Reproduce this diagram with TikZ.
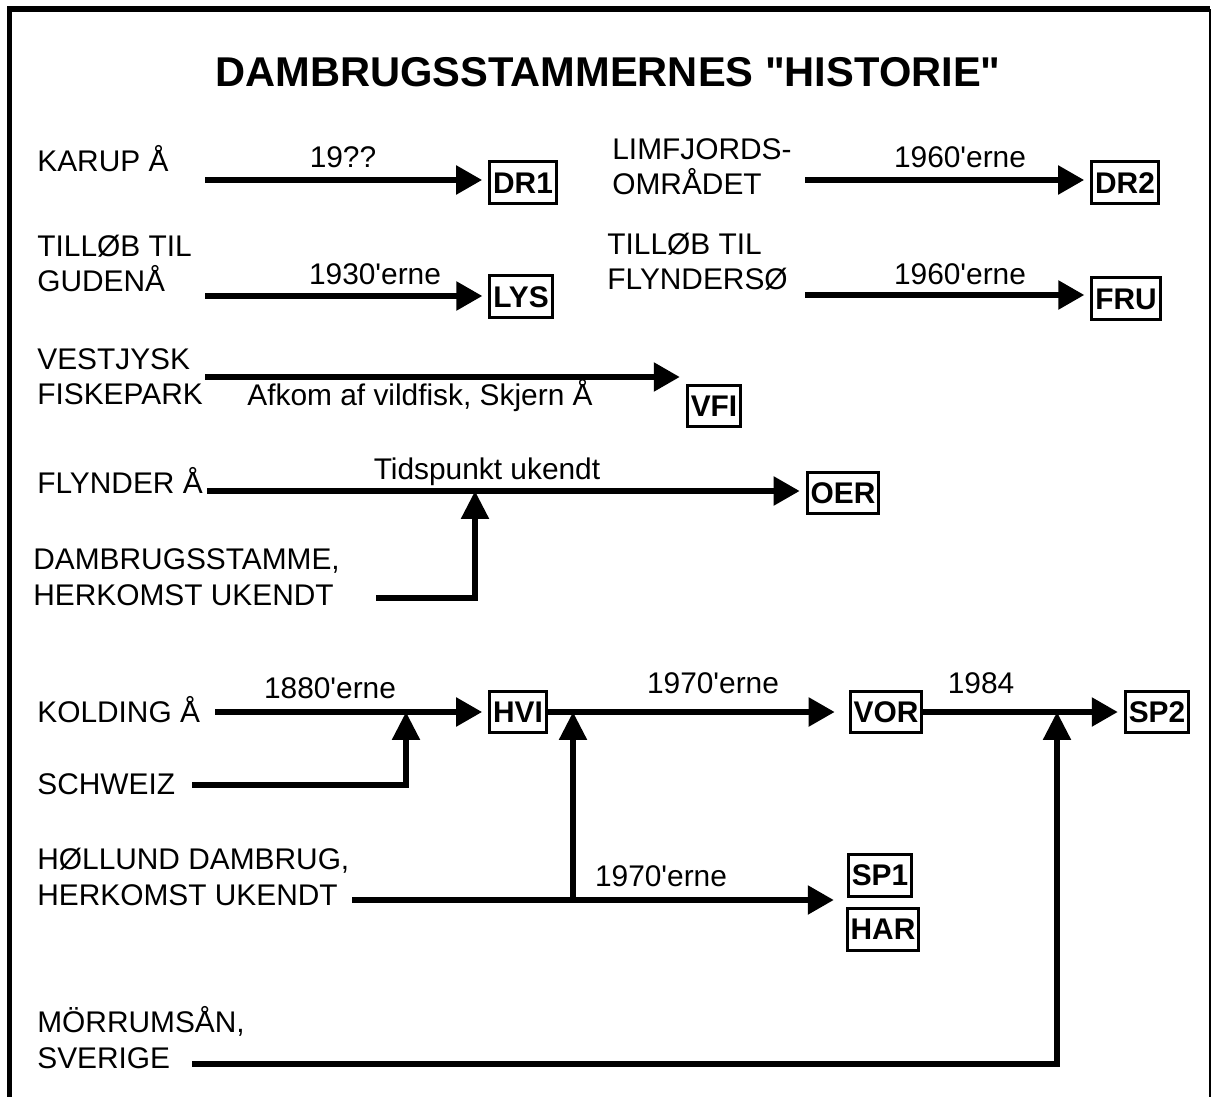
\documentclass[tikz,border=0pt]{standalone}
\usepackage{fontspec}
\setmainfont{Liberation Sans}[Ligatures=TeXOff]
\usepackage{tikz}
\usetikzlibrary{arrows.meta, positioning, calc}
\tikzset{%
	source/.style={
		anchor=base west,
		align=left,
		inner sep=0pt,
		font=\fontsize{17pt}{20pt}\selectfont
	},
	period/.style={
		anchor=base,
		inner sep=0pt,
		font=\fontsize{17pt}{20pt}\selectfont
	},
	strain/.style={
		draw,
		line width=0.06cm,
		inner sep=0.07cm,
		minimum height=0.84cm,
		font=\bfseries\fontsize{17pt}{20pt}\selectfont
	},
	flow/.style={
		line width=0.11cm,
		-{Triangle[length=0.52cm, width=0.56cm]},
		shorten >=0.12cm
	},
	feed/.style={
		line width=0.11cm,
		-{Triangle[length=0.56cm, width=0.54cm]}
	},
}
\begin{document}
\begin{tikzpicture}[x=0.02cm, y=-0.02cm]
	\useasboundingbox (0,0) rectangle (1213,1097);
	% ramme
	\draw[line width=0.12cm, line join=miter] (9.5,1097) -- (9.5,9.5) -- (1209.5,9.5);
	\draw[line width=0.04cm] (1209.5,9.5) -- (1209.5,1097);
	
	\node[anchor=base, inner sep=0pt, font=\bfseries\fontsize{23.7pt}{27pt}\selectfont] (title) at (608,87) {DAMBRUGSSTAMMERNES "HISTORIE"};
	
	% stammer
	\node[strain] (dr1) at (523,183) {DR1};
	\node[strain] (dr2) at (1125,183) {DR2};
	\node[strain] (lys) at (521,297) {LYS};
	\node[strain] (fru) at (1126,299) {FRU};
	\node[strain] (vfi) at (714,406) {VFI};
	\node[strain] (oer) at (843,493) {OER};
	\node[strain] (hvi) at (518,712) {HVI};
	\node[strain] (vor) at (886,712) {VOR};
	\node[strain] (sp2) at (1157,712) {SP2};
	\node[strain] (sp1) at (880,875) {SP1};
	\node[strain] (har) at (883,929) {HAR};
	
	% oprindelse
	\node[source] (karup) at (37,172) {KARUP Å};
	\node[source] (limfjord) at (612,195) {LIMFJORDS-\\OMRÅDET};
	\node[source] (gudenaa) at (37,292) {TILLØB TIL\\GUDENÅ};
	\node[source] (flyndersoe) at (607,290) {TILLØB TIL\\FLYNDERSØ};
	\node[source] (fiskepark) at (37,405) {VESTJYSK\\FISKEPARK};
	\node[source] (flynderaa) at (37,494) {FLYNDER Å};
	\node[source] (dambrug) at (33,605) {DAMBRUGSSTAMME,\\HERKOMST UKENDT};
	\node[source] (kolding) at (37,722) {KOLDING Å};
	\node[source] (schweiz) at (37,794) {SCHWEIZ};
	\node[source] (hoellund) at (37,905) {HØLLUND DAMBRUG,\\HERKOMST UKENDT};
	\node[source] (moerrum) at (37,1068) {MÖRRUMSÅN,\\SVERIGE};
	
	% tidspunkter
	\node[period] (t1) at (343,168) {19??};
	\node[period] (t2) at (960,168) {1960'erne};
	\node[period] (t3) at (375,285) {1930'erne};
	\node[period] (t4) at (960,285) {1960'erne};
	\node[period] (t5) at (420,406) {Afkom af vildfisk, Skjern Å};
	\node[period] (t6) at (487,480) {Tidspunkt ukendt};
	\node[period] (t7) at (330,698) {1880'erne};
	\node[period] (t8) at (713,693) {1970'erne};
	\node[period] (t9) at (981,693) {1984};
	\node[period] (t10) at (661,886) {1970'erne};
	
	% startpunkter
	\coordinate (karupS) at (205,180);
	\coordinate (limfjordS) at (805,180);
	\coordinate (gudenaaS) at (205,296);
	\coordinate (flyndersoeS) at (805,295);
	\coordinate (fiskeparkS) at (205,377);
	\coordinate (flynderaaS) at (207,491);
	\coordinate (dambrugS) at (376,598);
	\coordinate (koldingS) at (215,712);
	\coordinate (schweizS) at (192,785);
	\coordinate (hoellundS) at (352,900);
	\coordinate (moerrumS) at (192,1064);
	\coordinate (jOER) at (475,491);
	\coordinate (jHVI) at (406,712);
	\coordinate (jHoel) at (573,900);
	\coordinate (jSP2) at (1057,712);
	
	\draw[flow] (karupS) -- (karupS -| dr1.west);
	\draw[flow] (limfjordS) -- (limfjordS -| dr2.west);
	\draw[flow] (gudenaaS) -- (gudenaaS -| lys.west);
	\draw[flow] (flyndersoeS) -- (flyndersoeS -| fru.west);
	\draw[flow] (fiskeparkS) -- (fiskeparkS -| vfi.west);
	\draw[flow] (flynderaaS) -- (flynderaaS -| oer.west);
	\draw[feed] (dambrugS) -| (jOER);
	\draw[flow] (koldingS) -- (hvi.west);
	\draw[feed] (schweizS) -| (jHVI);
	\draw[flow, shorten >=0.28cm] (hvi.east) -- (vor.west);
	\draw[flow] (vor.east) -- (sp2.west);
	\draw[flow, shorten >=0.26cm] (hoellundS) -- (hoellundS -| sp1.west);
	\draw[feed] (jHoel) -- (jHoel |- hvi.east);
	\draw[feed] (moerrumS) -| (jSP2);
\end{tikzpicture}
\end{document}
